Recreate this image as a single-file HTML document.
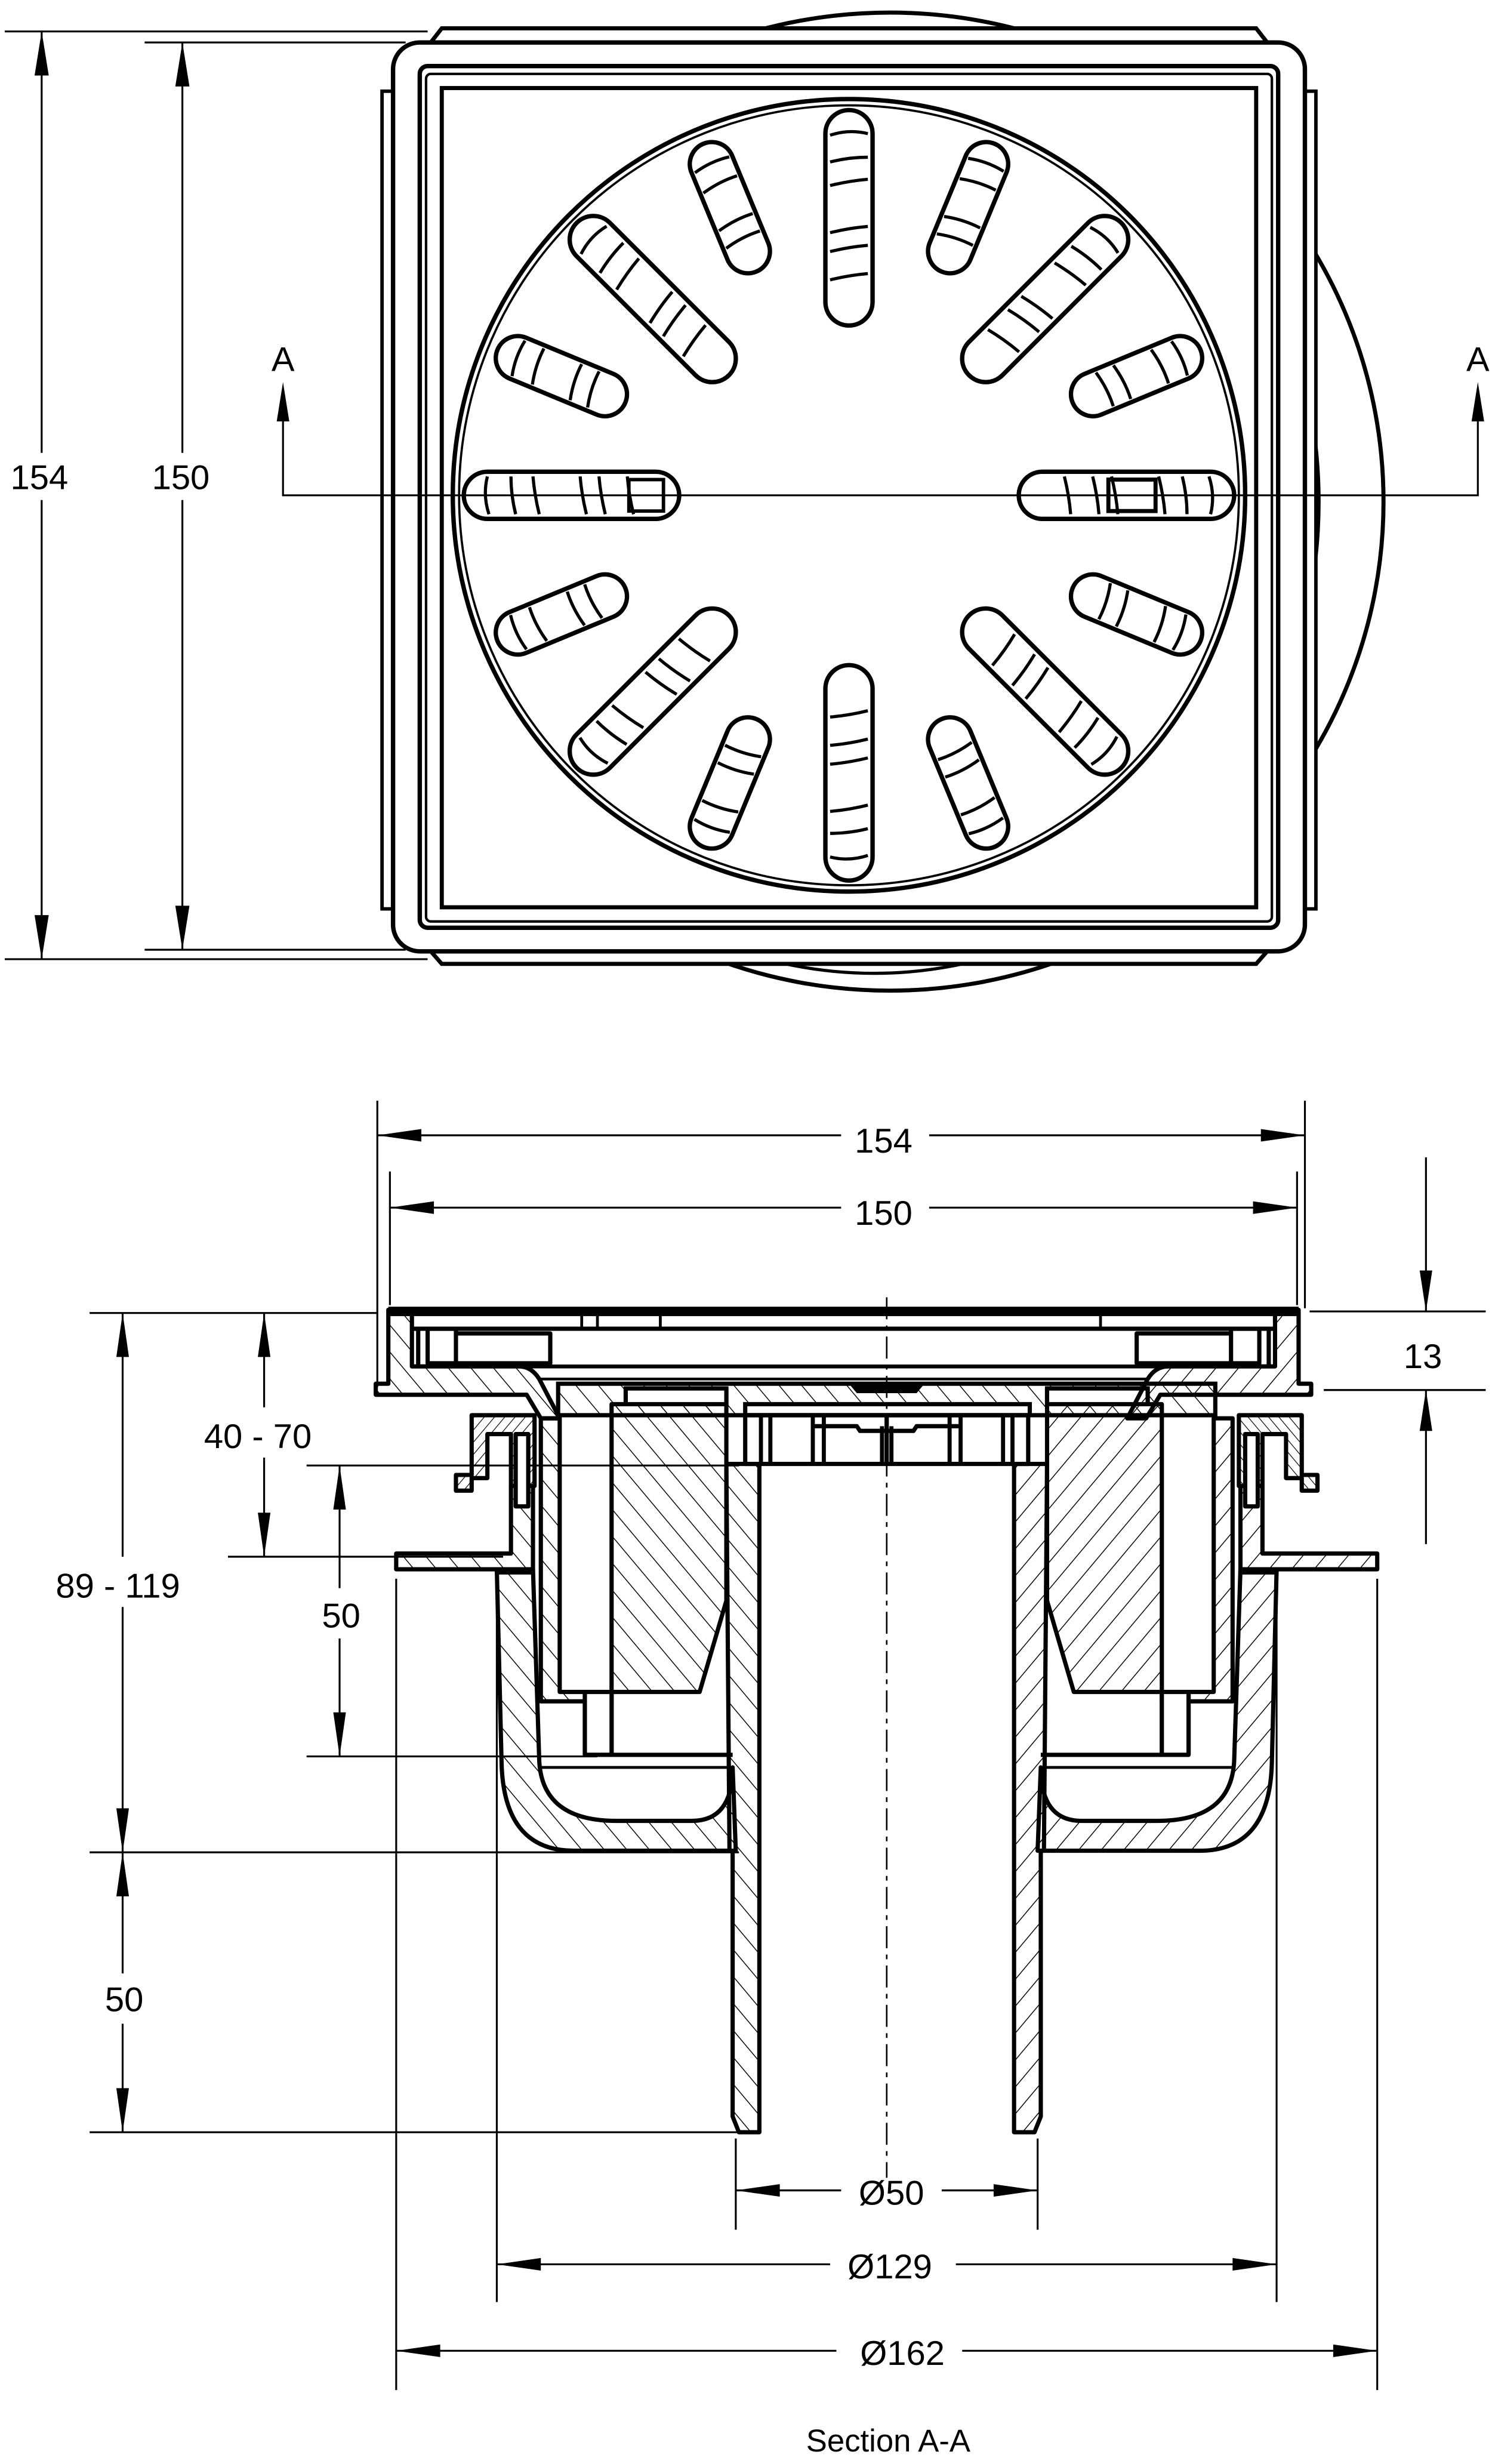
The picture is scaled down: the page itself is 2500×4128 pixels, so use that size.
<!DOCTYPE html>
<html><head><meta charset="utf-8"><style>
html,body{margin:0;padding:0;background:#fff}
svg{display:block}
text{font-family:"Liberation Sans",sans-serif;font-size:22px;fill:#000}
</style></head><body>
<svg width="2500" height="4128" viewBox="0 0 949 1567" xmlns="http://www.w3.org/2000/svg">
<defs>
<pattern id="h" patternUnits="userSpaceOnUse" width="11" height="11" patternTransform="rotate(-40)"><line x1="0" y1="0" x2="0" y2="11" stroke="#000" stroke-width="1.1"/></pattern>
<pattern id="hs" patternUnits="userSpaceOnUse" width="5" height="5" patternTransform="rotate(40)"><line x1="0" y1="0" x2="0" y2="5" stroke="#000" stroke-width="0.9"/></pattern>
<g id="longslot">
<rect x="525" y="70" width="30" height="137" rx="15" fill="#fff" stroke="#000" stroke-width="2.8"/>
<path d="M528,86 Q540,82 552,85 M528,103 Q540,100 552,100 M528,118 Q540,115 552,114 M528,148 Q540,145 552,144 M528,160 Q540,157 552,156 M528,178 Q540,175 552,174" stroke="#000" stroke-width="2" fill="none"/>
</g>
<g id="shortslot">
<rect x="526" y="73" width="28" height="88" rx="14" fill="#fff" stroke="#000" stroke-width="2.8"/>
<path d="M528,88 Q540,85 552,87 M528,102 Q540,99 552,100 M528,128 Q540,125 552,126 M528,140 Q540,137 552,138" stroke="#000" stroke-width="2" fill="none"/>
</g>
</defs>

<!-- ============ TOP VIEW ============ -->
<ellipse cx="566" cy="319" rx="314" ry="311" fill="#fff" stroke="#000" stroke-width="2.6"/>
<ellipse cx="556" cy="319" rx="283" ry="300" fill="none" stroke="#000" stroke-width="2"/>
<path d="M274,27 L281,18 L799,18 L806,27 Z" fill="#fff" stroke="#000" stroke-width="2.6"/>
<path d="M274,605 L281,613 L799,613 L806,605 Z" fill="#fff" stroke="#000" stroke-width="2.6"/>
<rect x="243" y="58" width="10" height="520" fill="#fff" stroke="#000" stroke-width="2.2"/>
<rect x="827" y="58" width="10" height="520" fill="#fff" stroke="#000" stroke-width="2.2"/>
<rect x="250" y="27" width="580" height="578" rx="17" fill="#fff" stroke="#000" stroke-width="2.8"/>
<rect x="267" y="42" width="546" height="548" rx="5" fill="none" stroke="#000" stroke-width="2.8"/>
<rect x="271" y="47" width="538" height="539" rx="3" fill="none" stroke="#000" stroke-width="1.6"/>
<rect x="281" y="56" width="518" height="521" fill="none" stroke="#000" stroke-width="2.6"/>
<circle cx="540" cy="315" r="252" fill="#fff" stroke="#000" stroke-width="2.8"/>
<circle cx="540" cy="315" r="248" fill="none" stroke="#000" stroke-width="1.4"/>
<use href="#longslot"/>
<use href="#shortslot" transform="rotate(22.5 540 315)"/>
<use href="#longslot" transform="rotate(45 540 315)"/>
<use href="#shortslot" transform="rotate(67.5 540 315)"/>
<use href="#longslot" transform="rotate(90 540 315)"/>
<use href="#shortslot" transform="rotate(112.5 540 315)"/>
<use href="#longslot" transform="rotate(135 540 315)"/>
<use href="#shortslot" transform="rotate(157.5 540 315)"/>
<use href="#longslot" transform="rotate(180 540 315)"/>
<use href="#shortslot" transform="rotate(202.5 540 315)"/>
<use href="#longslot" transform="rotate(225 540 315)"/>
<use href="#shortslot" transform="rotate(247.5 540 315)"/>
<use href="#longslot" transform="rotate(270 540 315)"/>
<use href="#shortslot" transform="rotate(292.5 540 315)"/>
<use href="#longslot" transform="rotate(315 540 315)"/>
<use href="#shortslot" transform="rotate(337.5 540 315)"/>
<rect x="400" y="305" width="22" height="20" fill="none" stroke="#000" stroke-width="2.2"/>
<rect x="705" y="305" width="30" height="20" fill="none" stroke="#000" stroke-width="2.6"/>
<path d="M180,268 L180,315 L940,315 L940,268" fill="none" stroke="#000" stroke-width="1.2"/>
<path d="M180,243 L176,268 L184,268 Z M940,243 L936,268 L944,268 Z" fill="#000"/>
<text x="180" y="236" text-anchor="middle">A</text>
<text x="940" y="236" text-anchor="middle">A</text>
<path d="M3,20 L272,20 M3,610 L272,610 M92,27 L258,27 M92,604 L258,604" stroke="#000" stroke-width="1.2"/>
<line x1="26.5" y1="20" x2="26.5" y2="610" stroke="#000" stroke-width="1.2"/>
<line x1="116" y1="27" x2="116" y2="604" stroke="#000" stroke-width="1.2"/>
<path d="M26.5,20 L22,48 L31,48 Z M26.5,610 L22,582 L31,582 Z M116,27 L111.5,55 L120.5,55 Z M116,604 L111.5,576 L120.5,576 Z" fill="#000"/>
<rect x="4" y="288" width="46" height="30" fill="#fff"/>
<rect x="92" y="288" width="46" height="30" fill="#fff"/>
<text x="25" y="311" text-anchor="middle">154</text>
<text x="115" y="311" text-anchor="middle">150</text>

<!-- ============ SECTION VIEW ============ -->
<path d="M240,700 L240,882 M830,700 L830,832 M248,745 L248,830 M825,745 L825,830" stroke="#000" stroke-width="1.2"/>
<line x1="240" y1="722" x2="830" y2="722" stroke="#000" stroke-width="1.2"/>
<line x1="248" y1="768" x2="825" y2="768" stroke="#000" stroke-width="1.2"/>
<path d="M240,722 L268,718 L268,726 Z M830,722 L802,718 L802,726 Z M248,768 L276,764 L276,772 Z M825,768 L797,764 L797,772 Z" fill="#000"/>
<rect x="535" y="708" width="56" height="28" fill="#fff"/>
<rect x="535" y="754" width="56" height="28" fill="#fff"/>
<text x="562" y="733" text-anchor="middle">154</text>
<text x="562" y="779" text-anchor="middle">150</text>
<path d="M833,834 L945,834 M842,884 L945,884 M907,736 L907,834 M907,884 L907,982" stroke="#000" stroke-width="1.2"/>
<path d="M907,834 L903,808 L911,808 Z M907,884 L903,910 L911,910 Z" fill="#000"/>
<text x="905" y="870" text-anchor="middle">13</text>
<path d="M57,835 L240,835 M145,990 L320,990 M195,932 L470,932 M195,1117 L380,1117 M57,1178 L470,1178 M57,1356 L470,1356" stroke="#000" stroke-width="1.2"/>
<path d="M78,835 L78,1178 M78,1178 L78,1356 M168,835 L168,990 M216,932 L216,1117" stroke="#000" stroke-width="1.2"/>
<path d="M78,835 L74,863 L82,863 Z M78,1178 L74,1150 L82,1150 Z M78,1178 L74,1206 L82,1206 Z M78,1356 L74,1328 L82,1328 Z M168,835 L164,863 L172,863 Z M168,990 L164,962 L172,962 Z M216,932 L212,960 L220,960 Z M216,1117 L212,1089 L220,1089 Z" fill="#000"/>
<rect x="122" y="895" width="84" height="32" fill="#fff"/>
<rect x="25" y="990" width="100" height="32" fill="#fff"/>
<rect x="195" y="1010" width="44" height="32" fill="#fff"/>
<rect x="55" y="1255" width="46" height="32" fill="#fff"/>
<text x="164" y="921" text-anchor="middle">40 - 70</text>
<text x="75" y="1016" text-anchor="middle">89 - 119</text>
<text x="217" y="1035" text-anchor="middle">50</text>
<text x="79" y="1279" text-anchor="middle">50</text>
<path d="M468,1360 L468,1418 M660,1360 L660,1418 M316,1010 L316,1464 M812,1010 L812,1464 M252,1004 L252,1520 M876,1004 L876,1520" stroke="#000" stroke-width="1.2"/>
<path d="M468,1393 L660,1393 M316,1440 L812,1440 M252,1495 L876,1495" stroke="#000" stroke-width="1.2"/>
<path d="M468,1393 L496,1389 L496,1397 Z M660,1393 L632,1389 L632,1397 Z M316,1440 L344,1436 L344,1444 Z M812,1440 L784,1436 L784,1444 Z M252,1495 L280,1491 L280,1499 Z M876,1495 L848,1491 L848,1499 Z" fill="#000"/>
<rect x="535" y="1378" width="64" height="30" fill="#fff"/>
<rect x="528" y="1425" width="80" height="30" fill="#fff"/>
<rect x="532" y="1480" width="80" height="30" fill="#fff"/>
<text x="567" y="1402" text-anchor="middle">Ø50</text>
<text x="566" y="1449" text-anchor="middle">Ø129</text>
<text x="574" y="1504" text-anchor="middle">Ø162</text>
<text x="565" y="1559" text-anchor="middle" style="font-size:20px">Section A-A</text>

<g id="half" stroke="#000" stroke-width="2.7" stroke-linejoin="round">
  <path d="M252,988 L325,988 L325,945 L339,945 L339,1000 L316,1000 L316,998 L252,998 Z" fill="url(#h)"/>
  <path d="M316,998 L339,998 L343,1120 Q345,1158 392,1158 L440,1158 Q466,1158 466,1124 L468,1177 L365,1177 Q320,1177 319,1120 Z" fill="url(#h)"/>
  <line x1="343" y1="1124" x2="466" y2="1124" stroke-width="1.8"/>
  <path d="M300,900 L340,900 L340,945 L325,945 L325,912 L310,912 L310,940 L300,940 L300,948 L290,948 L290,938 L300,938 Z" fill="url(#hs)"/>
  <path d="M328,912 L336,912 L336,958 L328,958 Z" fill="#fff"/>
  <path d="M344,902 L356,902 L356,1076 L389,1076 L389,1082 L344,1082 Z" fill="url(#h)"/>
  <path d="M389,893 L462,893 L462,1018 L445,1076 L372,1076 L372,1116 L389,1116 L389,1080 Z" fill="url(#h)"/>
  <path d="M372,1076 L389,1076 L389,1116 L372,1116 Z" fill="#fff"/>
  <line x1="372" y1="1116" x2="466" y2="1116"/>
  <rect x="398" y="883" width="64" height="10" fill="#fff"/>
  <path d="M462,931 L483,931 L483,1356 L470,1356 L466,1346 L466,1177 L464,1177 Z" fill="url(#h)"/>
  <path d="M474,900 L564,900 L564,931 L474,931 Z" fill="#fff"/>
  <path d="M484,900 L484,931 M490,900 L490,931 M517,900 L517,931 M524,900 L524,931 M561,907 L561,931" stroke-width="2.6"/>
  <path d="M517,907 L545,907 L547,910 L564,910" fill="none"/>
</g>
<use href="#half" transform="translate(1128,0) scale(-1,1)"/>

<path d="M355,880 L773,880 L773,900 L655,900 L655,893 L474,893 L474,900 L355,900 Z" fill="url(#h)" stroke="#000" stroke-width="2.7"/>
<rect x="398" y="883" width="64" height="10" fill="#fff" stroke="#000" stroke-width="2.7"/>
<rect x="666" y="883" width="64" height="10" fill="#fff" stroke="#000" stroke-width="2.7"/>
<path d="M540,880 L545,886 L583,886 L588,880 Z" fill="#000"/>
<line x1="474" y1="900" x2="654" y2="900" stroke="#000" stroke-width="2.8"/>

<g id="frame" stroke="#000" stroke-width="2.7" stroke-linejoin="round">
  <path d="M247,833 L262,833 L262,869 L330,869 Q338,869 343,877 L356,902 L344,902 L335,887 L239,887 L239,880 L247,880 Z" fill="url(#h)"/>
  <path d="M262,845 L266,845 L266,869" fill="none"/>
  <path d="M272,845 L290,845 L290,867 L272,867 Z" fill="#fff"/>
  <path d="M290,848 L350,848 L350,867 L290,867" fill="none"/>
</g>
<use href="#frame" transform="translate(1073,0) scale(-1,1)"/>
<rect x="247" y="831" width="579" height="6" fill="#000"/>
<line x1="262" y1="845" x2="811" y2="845" stroke="#000" stroke-width="2.7"/>
<line x1="330" y1="869" x2="743" y2="869" stroke="#000" stroke-width="2.5"/>
<line x1="343" y1="877" x2="730" y2="877" stroke="#000" stroke-width="1.8"/>
<path d="M370,837 L370,845 M380,837 L380,845 M420,837 L420,845 M700,837 L700,845" stroke="#000" stroke-width="1.8"/>

<line x1="564" y1="825" x2="564" y2="1385" stroke="#000" stroke-width="1" stroke-dasharray="14,4,3,4"/>
</svg>
</body></html>
